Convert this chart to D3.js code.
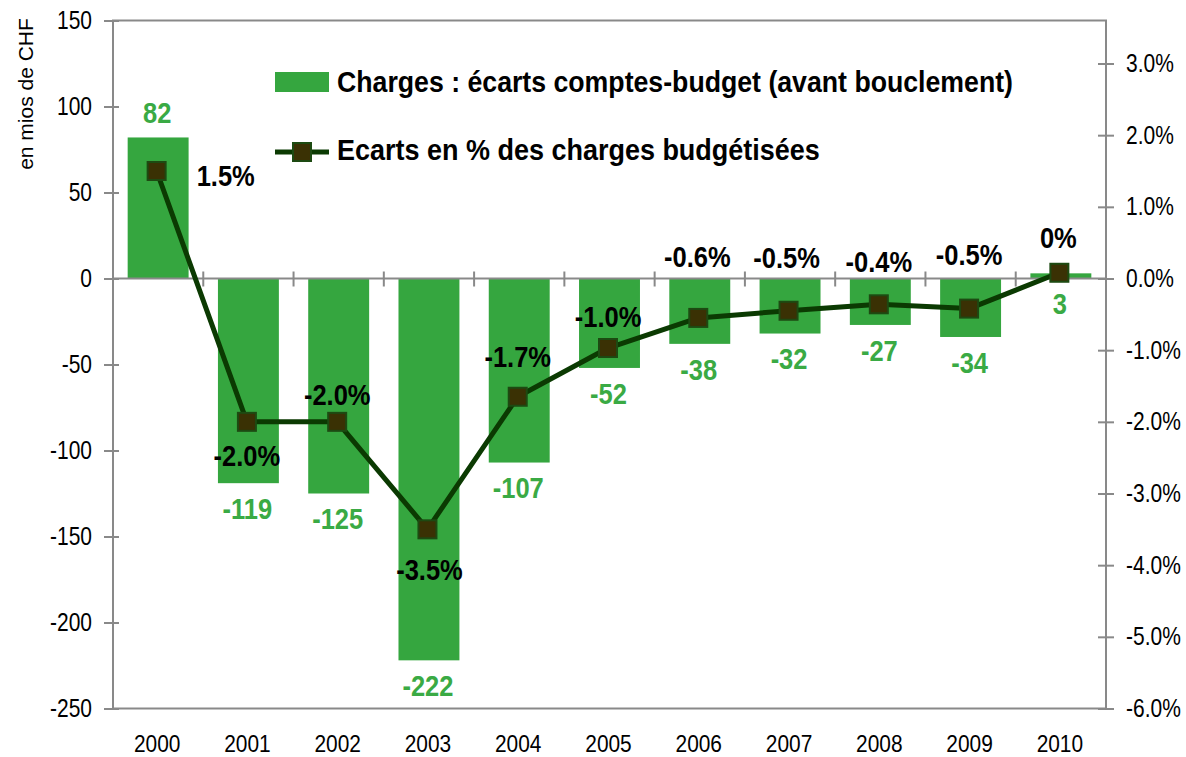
<!DOCTYPE html>
<meta charset="utf-8">
<style>
body { margin: 0; background: #fff; }
text { font-family: "Liberation Sans", Arial, sans-serif; }
.axis path, .axis line { stroke: #898989; stroke-width: 2px; }
.axis text { font-size: 25px; fill: #000; }
</style>
<svg width="1186" height="757"></svg>
<script src="https://d3js.org/d3.v7.min.js"></script>
<script>

var years = ["2000","2001","2002","2003","2004","2005","2006","2007","2008","2009","2010"];
var ecarts = [82, -119, -125, -222, -107, -52, -38, -32, -27, -34, 3];
var pct = [1.5, -2.0, -2.0, -3.5, -1.65, -0.97, -0.55, -0.45, -0.36, -0.42, 0.08];
var pctLabels = ["1.5%","-2.0%","-2.0%","-3.5%","-1.7%","-1.0%","-0.6%","-0.5%","-0.4%","-0.5%","0%"];
var leftTicks = [150, 100, 50, 0, -50, -100, -150, -200, -250];
var rightTicks = [3, 2, 1, 0, -1, -2, -3, -4, -5, -6];

var svg = d3.select("svg");

var x0 = 113, x1 = 1106, yTop = 20.5, yBot = 708.5;
var narrow = 0.84, narrowBold = 0.85;   // the original font is a condensed Arial

var x = d3.scaleBand().domain(years).range([x0, x1]).padding(0);
var y = d3.scaleLinear().domain([-250, 150]).range([yBot, yTop]);
var y2 = d3.scaleLinear().domain([-6, 3.6]).range([yBot, yTop]);

var barW = x.bandwidth() * 0.675;
var barColor = "#35a63f", labelGreen = "#3aaa44";
var lineColor = "#0b3a02", markFill = "#3a3104", markStroke = "#1d4a12";

function squeeze(sel, s) {
  sel.each(function() {
    var t = d3.select(this);
    t.attr("x", (+t.attr("x") || 0) / s)
     .attr("transform", "scale(" + s + ",1)");
  });
}

function place(sel, fx, fy, s) {
  sel.attr("transform", function(d, i) {
    return "translate(" + fx(d, i) + "," + fy(d, i) + ") scale(" + s + ",1)";
  });
}

// frame
svg.append("rect")
    .attr("x", x0).attr("y", yTop)
    .attr("width", x1 - x0).attr("height", yBot - yTop)
    .attr("fill", "none").attr("stroke", "#898989").attr("stroke-width", 2);

// bars
svg.append("g").selectAll("rect")
    .data(ecarts)
    .enter().append("rect")
      .attr("x", function(d, i) { return x(years[i]) + (x.bandwidth() - barW) / 2; })
      .attr("y", function(d) { return y(Math.max(d, 0)); })
      .attr("width", barW)
      .attr("height", function(d) { return Math.abs(y(d) - y(0)); })
      .attr("fill", barColor);

// left axis
var left = svg.append("g").attr("class", "axis")
    .attr("transform", "translate(" + x0 + ",0)")
    .call(d3.axisLeft(y).tickValues(leftTicks).tickSize(0).tickPadding(21)
      .tickFormat(function(d) { return String(d); }));
left.select(".domain").remove();
left.selectAll(".tick").append("line").attr("x1", -9).attr("x2", 6);
squeeze(left.selectAll(".tick text"), narrow);

// right axis
var right = svg.append("g").attr("class", "axis")
    .attr("transform", "translate(" + x1 + ",0)")
    .call(d3.axisRight(y2).tickValues(rightTicks).tickSize(0).tickPadding(20)
      .tickFormat(function(d) { return d.toFixed(1) + "%"; }));
right.select(".domain").remove();
right.selectAll(".tick").append("line").attr("x1", -8).attr("x2", 8);
squeeze(right.selectAll(".tick text"), narrow);

// category axis on zero line
var cat = svg.append("g").attr("class", "axis")
    .attr("transform", "translate(0," + y(0) + ")");
cat.append("line").attr("x1", x0).attr("x2", x1);
cat.selectAll(".tk")
    .data(years.slice(1))
    .enter().append("line")
      .attr("x1", function(d) { return x(d); })
      .attr("x2", function(d) { return x(d); })
      .attr("y1", -7).attr("y2", 8);

// category labels at bottom
svg.append("g").attr("class", "axis")
  .selectAll("text")
    .data(years)
    .enter().append("text")
      .attr("text-anchor", "middle")
      .style("font-size", "24px")
      .call(place, function(d) { return x(d) + x.bandwidth() / 2 - 1; },
                   function() { return 751.5; }, 0.87)
      .text(function(d) { return d; });

// y title
svg.append("text")
    .attr("transform", "translate(33,94) rotate(-90)")
    .attr("text-anchor", "middle")
    .style("font-size", "21px")
    .text("en mios de CHF");

// line
var cx = function(i) { return x(years[i]) + x.bandwidth() / 2 - 1.5; };
var line = d3.line()
    .x(function(d, i) { return cx(i); })
    .y(function(d) { return y2(d); });

svg.append("path")
    .datum(pct)
    .attr("d", line)
    .attr("fill", "none")
    .attr("stroke", lineColor)
    .attr("stroke-width", 5)
    .attr("stroke-linejoin", "round");

svg.append("g").selectAll("rect")
    .data(pct)
    .enter().append("rect")
      .attr("x", function(d, i) { return cx(i) - 9; })
      .attr("y", function(d) { return y2(d) - 9; })
      .attr("width", 18).attr("height", 18)
      .attr("fill", markFill)
      .attr("stroke", markStroke)
      .attr("stroke-width", 2);

// bar value labels
svg.append("g").selectAll("text")
    .data(ecarts)
    .enter().append("text")
      .attr("text-anchor", "middle")
      .style("font-size", "30px").style("font-weight", "bold")
      .attr("fill", labelGreen)
      .call(place, function(d, i) { return x(years[i]) + x.bandwidth() / 2 - 1; },
                   function(d) {
                     var c = d >= 10 ? y(d) - 25 : y(Math.min(d, 0)) + 25;
                     return c + 0.358 * 30;
                   }, narrowBold)
      .text(function(d) { return d; });

// percentage labels (offsets from marker, as placed in the original)
var pctOffset = [[40, 4], [0, 33], [0, -28], [2, 40], [0, -40], [0, -32],
                 [-1, -62], [-2, -53], [0, -43], [0, -54], [-1, -36]];
svg.append("g").selectAll("text")
    .data(pct)
    .enter().append("text")
      .attr("text-anchor", function(d, i) { return i === 0 ? "start" : "middle"; })
      .style("font-size", "30px").style("font-weight", "bold")
      .attr("fill", "#000")
      .call(place, function(d, i) { return cx(i) + pctOffset[i][0]; },
                   function(d, i) { return y2(d) + pctOffset[i][1] + 0.358 * 30; }, narrowBold)
      .text(function(d, i) { return pctLabels[i]; });

// legend
var lg = svg.append("g");
lg.append("rect").attr("x", 275).attr("y", 72).attr("width", 54).attr("height", 20).attr("fill", barColor);
lg.append("text")
    .attr("transform", "translate(337,91.5) scale(0.89,1)")
    .style("font-size", "30px").style("font-weight", "bold")
    .text("Charges : écarts comptes-budget (avant bouclement)");
lg.append("line").attr("x1", 275).attr("x2", 329).attr("y1", 152).attr("y2", 152)
    .attr("stroke", lineColor).attr("stroke-width", 5);
lg.append("rect").attr("x", 293).attr("y", 143).attr("width", 18).attr("height", 18)
    .attr("fill", markFill).attr("stroke", markStroke).attr("stroke-width", 2);
lg.append("text")
    .attr("transform", "translate(337,160) scale(0.9,1)")
    .style("font-size", "30px").style("font-weight", "bold")
    .text("Ecarts en % des charges budgétisées");

</script>
